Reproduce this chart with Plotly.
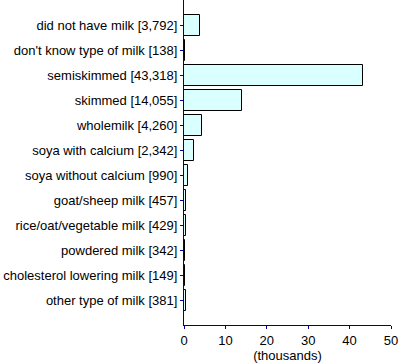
import plotly.graph_objects as go

categories = [
    "did not have milk [3,792]",
    "don't know type of milk [138]",
    "semiskimmed [43,318]",
    "skimmed [14,055]",
    "wholemilk [4,260]",
    "soya with calcium [2,342]",
    "soya without calcium [990]",
    "goat/sheep milk [457]",
    "rice/oat/vegetable milk [429]",
    "powdered milk [342]",
    "cholesterol lowering milk [149]",
    "other type of milk [381]",
]
values = [3792, 138, 43318, 14055, 4260, 2342, 990, 457, 429, 342, 149, 381]
values_k = [v / 1000 for v in values]
positions = list(range(len(categories)))

fig = go.Figure(
    go.Bar(
        x=values_k,
        y=positions,
        orientation="h",
        width=0.84,
        marker=dict(color="#d9ffff", line=dict(color="#000000", width=1)),
        hoverinfo="skip",
    )
)

fig.update_layout(
    width=400,
    height=364,
    margin=dict(l=184, r=9, t=0, b=39),
    paper_bgcolor="white",
    plot_bgcolor="white",
    font=dict(family="Liberation Sans, Arial, sans-serif", size=13, color="#000000"),
    showlegend=False,
    bargap=0,
)
fig.update_xaxes(
    range=[0, 50],
    tickvals=[0, 10, 20, 30, 40, 50],
    showgrid=False,
    zeroline=False,
    showline=True,
    linecolor="#000080",
    linewidth=1,
    ticks="outside",
    ticklen=3,
    tickcolor="#000080",
    title=dict(text="(thousands)", standoff=4, font=dict(size=13)),
)
fig.update_yaxes(
    range=[11.98, -1.02],
    tickvals=positions,
    ticktext=categories,
    showgrid=False,
    zeroline=False,
    showline=True,
    linecolor="#000080",
    linewidth=1,
    ticks="outside",
    ticklen=3,
    tickcolor="#000080",
)

fig.write_html(
    "out.html",
    config={"displayModeBar": False},
    post_script="document.body.style.margin='0';document.body.style.overflow='hidden';",
)
